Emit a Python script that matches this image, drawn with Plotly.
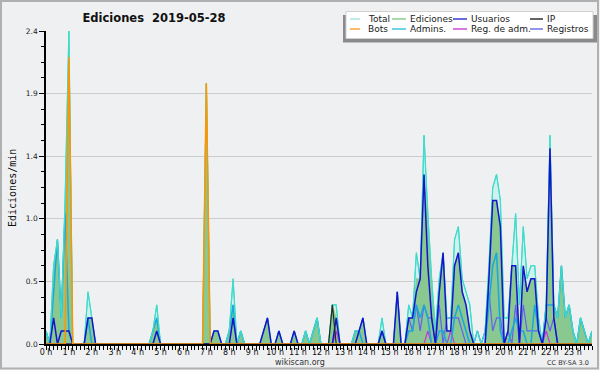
import plotly.graph_objects as go

# 10-minute bins over the day
minutes = list(range(0, 1440, 10))
hour_ticks = list(range(0, 1440, 60))
hour_labels = [f"{h} h" for h in range(24)]
y_ticks = [0, 0.48, 0.96, 1.44, 1.92, 2.4]
y_labels = ["0.0", "0.5", "1.0", "1.4", "1.9", "2.4"]

total = [
    0.1, 0.0, 0.6, 0.8, 0.2, 1.1,
    2.4, 0.0, 0.0, 0.0, 0.0, 0.4,
    0.2, 0.0, 0.0, 0.0, 0.0, 0.0,
    0.0, 0.0, 0.0, 0.0, 0.0, 0.0,
    0.0, 0.0, 0.0, 0.0, 0.1, 0.3,
    0.0, 0.0, 0.0, 0.0, 0.0, 0.0,
    0.0, 0.0, 0.0, 0.0, 0.0, 0.0,
    2.0, 0.0, 0.1, 0.1, 0.0, 0.0,
    0.1, 0.5, 0.0, 0.1, 0.0, 0.0,
    0.0, 0.0, 0.0, 0.1, 0.2, 0.0,
    0.0, 0.1, 0.0, 0.0, 0.0, 0.1,
    0.0, 0.0, 0.1, 0.0, 0.1, 0.2,
    0.0, 0.0, 0.0, 0.3, 0.3, 0.0,
    0.0, 0.0, 0.0, 0.1, 0.1, 0.2,
    0.0, 0.0, 0.0, 0.0, 0.2, 0.0,
    0.0, 0.0, 0.4, 0.0, 0.0, 0.3,
    0.2, 0.7, 0.5, 1.6, 1.0, 0.5,
    0.1, 0.5, 0.7, 0.2, 0.2, 0.8,
    0.9, 0.5, 0.4, 0.3, 0.0, 0.1,
    0.0, 0.1, 0.6, 1.2, 1.3, 1.1,
    0.2, 0.2, 0.6, 1.0, 0.3, 0.9,
    0.5, 0.6, 0.6, 0.2, 0.0, 0.3,
    1.6, 0.3, 0.2, 0.6, 0.2, 0.3,
    0.1, 0.0, 0.2, 0.1, 0.0, 0.1,
]

ediciones = [
    0.1, 0.0, 0.6, 0.8, 0.2, 1.0,
    2.3, 0.0, 0.0, 0.0, 0.0, 0.2,
    0.2, 0.0, 0.0, 0.0, 0.0, 0.0,
    0.0, 0.0, 0.0, 0.0, 0.0, 0.0,
    0.0, 0.0, 0.0, 0.0, 0.1, 0.2,
    0.0, 0.0, 0.0, 0.0, 0.0, 0.0,
    0.0, 0.0, 0.0, 0.0, 0.0, 0.0,
    2.0, 0.0, 0.1, 0.1, 0.0, 0.0,
    0.1, 0.3, 0.0, 0.1, 0.0, 0.0,
    0.0, 0.0, 0.0, 0.1, 0.2, 0.0,
    0.0, 0.1, 0.0, 0.0, 0.0, 0.1,
    0.0, 0.0, 0.1, 0.0, 0.1, 0.2,
    0.0, 0.0, 0.0, 0.3, 0.2, 0.0,
    0.0, 0.0, 0.0, 0.1, 0.1, 0.2,
    0.0, 0.0, 0.0, 0.0, 0.1, 0.0,
    0.0, 0.0, 0.4, 0.0, 0.0, 0.2,
    0.2, 0.5, 0.5, 1.3, 0.9, 0.4,
    0.1, 0.4, 0.7, 0.1, 0.1, 0.6,
    0.7, 0.4, 0.3, 0.1, 0.0, 0.0,
    0.0, 0.0, 0.5, 1.1, 1.1, 0.9,
    0.0, 0.1, 0.6, 0.6, 0.0, 0.6,
    0.4, 0.5, 0.5, 0.1, 0.0, 0.3,
    1.5, 0.3, 0.2, 0.6, 0.2, 0.3,
    0.1, 0.0, 0.2, 0.1, 0.0, 0.1,
]

usuarios = [
    0.0, 0.0, 0.2, 0.0, 0.1, 0.1,
    0.1, 0.0, 0.0, 0.0, 0.0, 0.2,
    0.2, 0.0, 0.0, 0.0, 0.0, 0.0,
    0.0, 0.0, 0.0, 0.0, 0.0, 0.0,
    0.0, 0.0, 0.0, 0.0, 0.0, 0.1,
    0.0, 0.0, 0.0, 0.0, 0.0, 0.0,
    0.0, 0.0, 0.0, 0.0, 0.0, 0.0,
    0.0, 0.0, 0.1, 0.1, 0.0, 0.0,
    0.0, 0.2, 0.0, 0.0, 0.0, 0.0,
    0.0, 0.0, 0.0, 0.1, 0.2, 0.0,
    0.0, 0.1, 0.0, 0.0, 0.0, 0.1,
    0.0, 0.0, 0.0, 0.0, 0.0, 0.0,
    0.0, 0.0, 0.0, 0.0, 0.2, 0.0,
    0.0, 0.0, 0.0, 0.0, 0.1, 0.2,
    0.0, 0.0, 0.0, 0.0, 0.1, 0.0,
    0.0, 0.0, 0.4, 0.0, 0.0, 0.2,
    0.2, 0.4, 0.5, 1.3, 0.6, 0.2,
    0.0, 0.4, 0.7, 0.1, 0.1, 0.6,
    0.7, 0.4, 0.3, 0.1, 0.0, 0.0,
    0.0, 0.0, 0.5, 1.1, 1.1, 0.9,
    0.0, 0.1, 0.6, 0.6, 0.0, 0.6,
    0.4, 0.5, 0.5, 0.1, 0.0, 0.2,
    1.5, 0.2, 0.0, 0.0, 0.0, 0.0,
    0.0, 0.0, 0.0, 0.0, 0.0, 0.0,
]

ip = [0.0] * 6 * 12 + [0.0, 0.0, 0.0, 0.3, 0.0, 0.0] + [0.0] * 6 * 11

bots = ([0.0] * 6 + [2.2, 0.0, 0.0, 0.0, 0.0, 0.0] + [0.0] * 6 * 5
        + [2.0, 0.0, 0.0, 0.0, 0.0, 0.0] + [0.0] * 6 * 16)

admins = [
    0.1, 0.0, 0.4, 0.8, 0.2, 1.0,
    0.1, 0.0, 0.0, 0.0, 0.0, 0.2,
    0.0, 0.0, 0.0, 0.0, 0.0, 0.0,
    0.0, 0.0, 0.0, 0.0, 0.0, 0.0,
    0.0, 0.0, 0.0, 0.0, 0.1, 0.2,
    0.0, 0.0, 0.0, 0.0, 0.0, 0.0,
    0.0, 0.0, 0.0, 0.0, 0.0, 0.0,
    0.0, 0.0, 0.0, 0.0, 0.0, 0.0,
    0.1, 0.3, 0.0, 0.1, 0.0, 0.0,
    0.0, 0.0, 0.0, 0.0, 0.0, 0.0,
    0.0, 0.0, 0.0, 0.0, 0.0, 0.0,
    0.0, 0.0, 0.1, 0.0, 0.1, 0.2,
    0.0, 0.0, 0.0, 0.0, 0.0, 0.0,
    0.0, 0.0, 0.0, 0.1, 0.1, 0.0,
    0.0, 0.0, 0.0, 0.0, 0.1, 0.0,
    0.0, 0.0, 0.0, 0.0, 0.0, 0.1,
    0.1, 0.3, 0.2, 0.3, 0.2, 0.0,
    0.0, 0.1, 0.1, 0.0, 0.0, 0.2,
    0.3, 0.2, 0.1, 0.0, 0.0, 0.0,
    0.0, 0.0, 0.3, 0.6, 0.7, 0.1,
    0.0, 0.0, 0.1, 0.2, 0.1, 0.1,
    0.0, 0.0, 0.3, 0.1, 0.0, 0.3,
    0.3, 0.3, 0.2, 0.6, 0.2, 0.3,
    0.1, 0.0, 0.2, 0.1, 0.0, 0.1,
]

registros = [0.0] * 6 * 12 + [
    0.0, 0.0, 0.0, 0.0, 0.1, 0.0,
    0.0, 0.0, 0.0, 0.0, 0.0, 0.0,
    0.0, 0.0, 0.0, 0.0, 0.0, 0.0,
    0.0, 0.0, 0.0, 0.0, 0.0, 0.2,
    0.1, 0.3, 0.1, 0.3, 0.2, 0.2,
    0.0, 0.3, 0.0, 0.2, 0.2, 0.2,
    0.2, 0.1, 0.0, 0.0, 0.0, 0.1,
    0.0, 0.1, 0.4, 0.1, 0.2, 0.2,
    0.0, 0.1, 0.0, 0.3, 0.0, 0.3,
    0.1, 0.1, 0.1, 0.1, 0.0, 0.2,
    0.1, 0.2, 0.0, 0.0, 0.0, 0.0,
    0.0, 0.0, 0.0, 0.0, 0.0, 0.0,
]

reg_adm = [0.0] * 6 * 12 + [
    0.0, 0.0, 0.0, 0.0, 0.1, 0.0,
    0.0, 0.0, 0.0, 0.0, 0.0, 0.0,
    0.0, 0.0, 0.0, 0.0, 0.0, 0.0,
    0.0, 0.0, 0.0, 0.0, 0.0, 0.0,
    0.0, 0.0, 0.0, 0.0, 0.1, 0.0,
    0.0, 0.0, 0.0, 0.0, 0.1, 0.0,
    0.0, 0.0, 0.0, 0.0, 0.0, 0.0,
    0.0, 0.0, 0.0, 0.0, 0.0, 0.0,
    0.0, 0.0, 0.0, 0.0, 0.0, 0.0,
    0.0, 0.0, 0.0, 0.0, 0.0, 0.1,
    0.0, 0.0, 0.0, 0.0, 0.0, 0.0,
    0.0, 0.0, 0.0, 0.0, 0.0, 0.0,
]

C_TOTAL = "#3fdccb"
C_TOTAL_FILL = "rgba(205,240,236,0.85)"
C_EDIC = "#86c686"
C_EDIC_FILL = "rgba(110,185,110,0.72)"
C_USU = "#1414cc"
C_IP = "#1e2a1e"
C_BOTS = "#ff9400"
C_ADM = "#1aa6de"
C_REGADM = "#c838d8"
C_REG = "#6262ee"

FONT = "DejaVu Sans"

fig = go.Figure()
fig.add_trace(go.Scatter(x=minutes, y=total, mode="lines", fill="tozeroy",
                         fillcolor=C_TOTAL_FILL, line=dict(color=C_TOTAL, width=1),
                         name="Total", showlegend=False))
fig.add_trace(go.Scatter(x=minutes, y=ediciones, mode="lines", fill="tozeroy",
                         fillcolor=C_EDIC_FILL, line=dict(color=C_EDIC, width=0.8),
                         name="Ediciones", showlegend=False))
fig.add_trace(go.Scatter(x=minutes, y=registros, mode="lines",
                         line=dict(color=C_REG, width=1.2), name="Registros", showlegend=False))
fig.add_trace(go.Scatter(x=minutes, y=reg_adm, mode="lines",
                         line=dict(color=C_REGADM, width=1.2), name="Reg. de adm.", showlegend=False))
fig.add_trace(go.Scatter(x=minutes, y=admins, mode="lines",
                         line=dict(color=C_ADM, width=1.5), name="Admins.", showlegend=False))
fig.add_trace(go.Scatter(x=minutes, y=total, mode="lines",
                         line=dict(color=C_TOTAL, width=1.2), name="Total", showlegend=False))
fig.add_trace(go.Scatter(x=minutes, y=usuarios, mode="lines",
                         line=dict(color=C_USU, width=1.5), name="Usuarios", showlegend=False))
fig.add_trace(go.Scatter(x=minutes, y=ip, mode="lines",
                         line=dict(color=C_IP, width=1.2), name="IP", showlegend=False))
fig.add_trace(go.Scatter(x=minutes, y=bots, mode="lines",
                         line=dict(color=C_BOTS, width=1.5), name="Bots", showlegend=False))

# pixel -> paper helpers (plot area in pixels)
L, R, T, B = 46, 592, 31, 344
def px(x):
    return (x - L) / (R - L)
def py(y):
    return (B - y) / (B - T)

shapes = []
annotations = []

# outer frame
shapes.append(dict(type="rect", xref="paper", yref="paper",
                   x0=px(1), x1=px(598), y0=py(1), y1=py(368.5),
                   line=dict(color="#b0b0b0", width=2), fillcolor="rgba(0,0,0,0)", layer="above"))

# legend box with shadow
shapes.append(dict(type="rect", xref="paper", yref="paper",
                   x0=px(343), x1=px(597), y0=py(15), y1=py(42.5),
                   line=dict(width=0), fillcolor="#8a8a8a", layer="above"))
shapes.append(dict(type="rect", xref="paper", yref="paper",
                   x0=px(346), x1=px(593), y0=py(11.5), y1=py(38.5),
                   line=dict(color="#d0d0d0", width=1), fillcolor="#ffffff", layer="above"))

legend_items = [
    ("Total", "#a6e6df", 350, 360, 366, 19),
    ("Ediciones", "#8ccc8c", 392, 406, 408, 19),
    ("Usuarios", "#3a3ad6", 453, 467, 469, 19),
    ("IP", "#303030", 530, 543, 545, 19),
    ("Bots", "#ffa23a", 350, 360, 366, 29),
    ("Admins.", "#3cc4dc", 392, 406, 408, 29),
    ("Reg. de adm.", "#c84ad8", 453, 467, 469, 29),
    ("Registros", "#7070e8", 530, 543, 545, 29),
]
for name, col, lx0, lx1, tx, ty in legend_items:
    shapes.append(dict(type="line", xref="paper", yref="paper",
                       x0=px(lx0), x1=px(lx1), y0=py(ty), y1=py(ty),
                       line=dict(color=col, width=1.5), layer="above"))
    annotations.append(dict(text=name, xref="paper", yref="paper", x=px(tx), y=py(ty),
                            xanchor="left", yanchor="middle", showarrow=False,
                            font=dict(family=FONT, size=9, color="#1a1a1a")))

# y axis title
annotations.append(dict(text="Ediciones/min", xref="paper", yref="paper",
                        x=px(12), y=py(188), textangle=-90, showarrow=False,
                        xanchor="center", yanchor="middle",
                        font=dict(family="DejaVu Sans Mono", size=10, color="#111111")))
# footer texts
annotations.append(dict(text="wikiscan.org", xref="paper", yref="paper",
                        x=px(300), y=py(362), showarrow=False, xanchor="center", yanchor="middle",
                        font=dict(family=FONT, size=8, color="#333333")))
annotations.append(dict(text="CC BY-SA 3.0", xref="paper", yref="paper",
                        x=px(568), y=py(362.5), showarrow=False, xanchor="center", yanchor="middle",
                        font=dict(family=FONT, size=6.5, color="#333333")))

fig.update_layout(
    width=600, height=370,
    margin=dict(l=L, r=600 - R, t=T, b=370 - B, pad=0),
    paper_bgcolor="#eff0f1",
    plot_bgcolor="#eef0f2",
    title=dict(text="Ediciones\u00a0\u00a02019-05-28", x=154 / 600, y=1 - 18 / 370,
               xanchor="center", yanchor="middle",
               font=dict(family=FONT, size=11.5, color="#111111", weight="bold")),
    showlegend=False,
    shapes=shapes,
    annotations=annotations,
    xaxis=dict(
        range=[0, 1430], tickvals=hour_ticks, ticktext=hour_labels,
        ticks="outside", ticklen=4, tickwidth=1, tickcolor="#000000",
        ticklabelstandoff=-4,
        minor=dict(dtick=10, tick0=0, ticks="outside", ticklen=4, tickwidth=1,
                   tickcolor="#000000", showgrid=False),
        showgrid=False, zeroline=False, showline=True, linecolor="#000000", linewidth=1.5,
        tickfont=dict(family=FONT, size=8, color="#111111"), fixedrange=True,
    ),
    yaxis=dict(
        range=[0, 2.4], tickvals=y_ticks, ticktext=y_labels,
        ticks="outside", ticklen=5, tickwidth=1, tickcolor="#000000",
        minor=dict(tickvals=[0.12 * k for k in range(21)], ticks="outside", ticklen=3,
                   tickwidth=1, tickcolor="#000000", showgrid=False),
        showgrid=True, gridcolor="#cccccc", gridwidth=1,
        zeroline=False, showline=True, linecolor="#000000", linewidth=1.5,
        tickfont=dict(family=FONT, size=7.5, color="#222222"), fixedrange=True,
    ),
)

fig.write_html("out.html", config={"displayModeBar": False},
               post_script="document.body.style.margin='0';document.body.style.padding='0';")
